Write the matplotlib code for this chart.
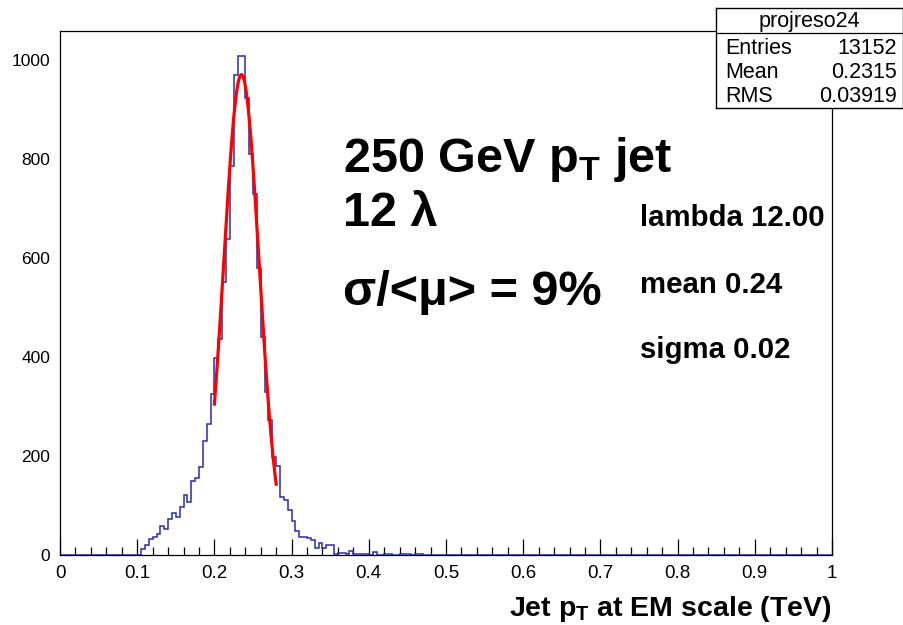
import numpy as np
import matplotlib
matplotlib.use("Agg")
import matplotlib.pyplot as plt
from matplotlib import font_manager
from matplotlib.ticker import MultipleLocator, FixedLocator

# ---------------- data ----------------
hist_name = "projreso24"
n_bins = 200
x_range = (0.0, 1.0)
first_filled_bin_low = 0.105   # low edge of the first non-empty bin
counts = [
    12, 20, 32, 37, 42, 59, 52, 72, 84, 76,
    96, 121, 108, 149, 155, 178, 231, 265, 325, 397,
    436, 551, 638, 786, 970, 1008, 1008, 922, 810, 729,
    580, 440, 330, 273, 197, 180, 118, 112, 91, 68,
    48, 37, 37, 35, 30, 15, 24, 15, 20, 21,
    3, 4, 4, 3, 8, 3, 3, 3, 2, 0,
    6, 0, 0, 3, 2, 0, 0, 2, 3, 2,
    0, 3, 3,
]
stats_labels = ["Entries", "Mean", "RMS"]
stats_values = ["13152", "0.2315", "0.03919"]

# Gaussian fit result
fit_amp = 970.0
fit_mean = 0.235
fit_sigma = 0.023
fit_range = (0.20, 0.28)

x_ticks = [0, 0.1, 0.2, 0.3, 0.4, 0.5, 0.6, 0.7, 0.8, 0.9, 1]
x_tick_labels = ["0", "0.1", "0.2", "0.3", "0.4", "0.5", "0.6", "0.7", "0.8", "0.9", "1"]
y_ticks = [0, 200, 400, 600, 800, 1000]
y_max = 1058

title_lines = [r"250 GeV p$_\mathregular{T}$ jet", "12 λ", "σ/<μ> = 9%"]
fit_lines = ["lambda 12.00", "mean 0.24", "sigma 0.02"]
x_title = r"Jet p$_\mathregular{T}$ at EM scale (TeV)"

# ---------------- style ----------------
names = {f.name for f in font_manager.fontManager.ttflist}
main_font = "Liberation Sans" if "Liberation Sans" in names else "DejaVu Sans"
plt.rcParams["font.family"] = [main_font, "DejaVu Sans"]
plt.rcParams["mathtext.fontset"] = "custom"
plt.rcParams["mathtext.rm"] = main_font
plt.rcParams["mathtext.bf"] = main_font + ":bold"

W, H = 904, 625
fig = plt.figure(figsize=(W / 100, H / 100), dpi=100)
L, R, B, T = 60, 832, 555, 31
ax = fig.add_axes([L / W, (H - B) / H, (R - L) / W, (B - T) / H])

edges = np.linspace(x_range[0], x_range[1], n_bins + 1)
values = np.zeros(n_bins)
start = int(round((first_filled_bin_low - x_range[0]) / (edges[1] - edges[0])))
values[start:start + len(counts)] = counts

ax.stairs(values, edges, color="#2a2ab0", linewidth=1.1, baseline=None, zorder=3)

xf = np.linspace(fit_range[0], fit_range[1], 200)
yf = fit_amp * np.exp(-0.5 * ((xf - fit_mean) / fit_sigma) ** 2)
ax.plot(xf, yf, color="#ff0000", linewidth=2.3, zorder=4)

ax.set_xlim(*x_range)
ax.set_ylim(0, y_max)

ax.xaxis.set_major_locator(FixedLocator(x_ticks))
ax.set_xticklabels(x_tick_labels)
ax.xaxis.set_minor_locator(MultipleLocator(0.02))
ax.yaxis.set_major_locator(FixedLocator(y_ticks))

ax.tick_params(axis="x", which="major", direction="in", length=11.3, width=0.9,
               pad=7, labelsize=13.5)
ax.tick_params(axis="x", which="minor", direction="in", length=5.7, width=0.9)
ax.tick_params(axis="y", which="major", direction="in", length=0, pad=7, labelsize=12.5)

for sp in ax.spines.values():
    sp.set_linewidth(0.9)

ax.set_xlabel(x_title, fontsize=20.5, fontweight="bold", loc="right", labelpad=9)

# annotations
big = dict(fontsize=35, fontweight="bold", ha="left", va="baseline", color="black")
ax.text(0.3666, 774, title_lines[0], **big)
ax.text(0.3666, 665, title_lines[1], **big)
ax.text(0.3666, 505, title_lines[2], **big)
small = dict(fontsize=21.2, fontweight="bold", ha="left", va="baseline", color="black")
ax.text(0.751, 665, fit_lines[0], **small)
ax.text(0.751, 529, fit_lines[1], **small)
ax.text(0.751, 398, fit_lines[2], **small)

# statistics box
bx0, bx1, by0, by1 = 716, 903, 8, 108
sax = fig.add_axes([bx0 / W, (H - by1) / H, (bx1 - bx0) / W, (by1 - by0) / H])
sax.set_xlim(bx0, bx1)
sax.set_ylim(by1, by0)
sax.set_xticks([])
sax.set_yticks([])
for sp in sax.spines.values():
    sp.set_linewidth(1.0)
sax.axhline(33, color="black", linewidth=0.9)
sax.text((bx0 + bx1) / 2, 21, hist_name, ha="center", va="center", fontsize=15.5)
row_y = [48, 73, 97]
for lab, val, yy in zip(stats_labels, stats_values, row_y):
    sax.text(bx0 + 9, yy, lab, ha="left", va="center", fontsize=15.5)
    sax.text(bx1 - 6, yy, val, ha="right", va="center", fontsize=15.5)

fig.savefig("out.png", dpi=100)
